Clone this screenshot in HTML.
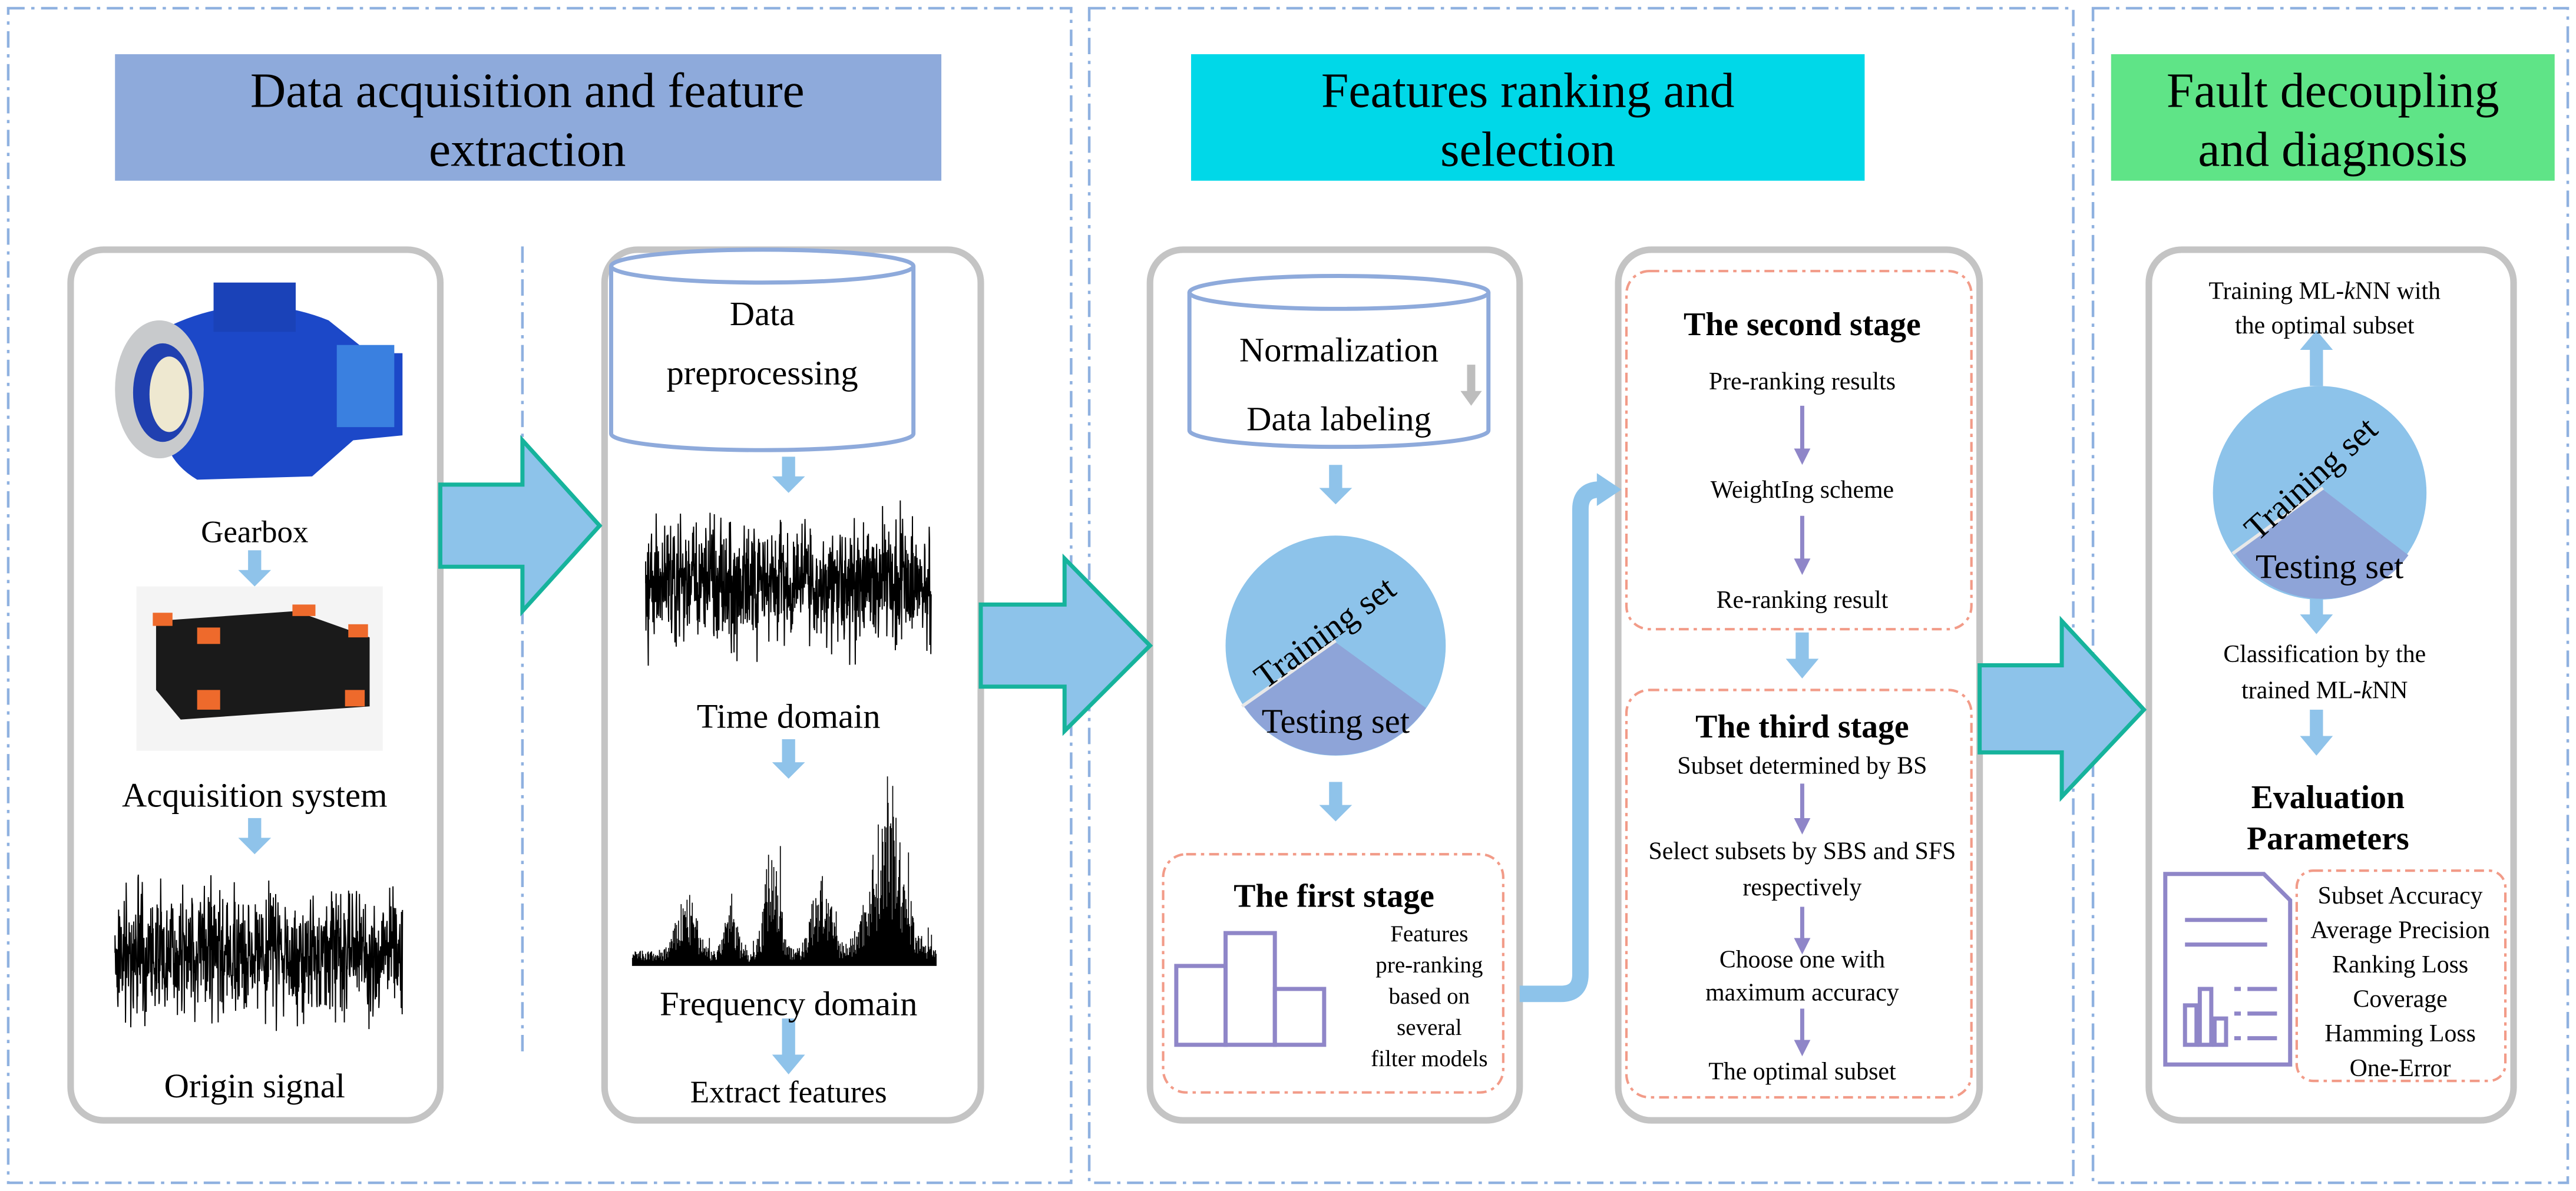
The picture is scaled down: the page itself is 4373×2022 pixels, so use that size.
<!DOCTYPE html>
<html><head><meta charset="utf-8"><style>
html,body{margin:0;padding:0;background:#fff}
svg{display:block}
text{font-family:"Liberation Serif",serif;fill:#000}
</style></head><body>
<svg id="s" width="4373" height="2022" viewBox="0 0 1568 725" preserveAspectRatio="none" xmlns="http://www.w3.org/2000/svg">
<defs>
<marker id="pa" markerWidth="4" markerHeight="4" refX="2" refY="2" orient="auto" markerUnits="strokeWidth"><path d="M0,0 L4,2 L0,4z" fill="#8f86c8"/></marker>
</defs>
<g fill="none" stroke="#8fb1e0" stroke-width="1.6" stroke-dasharray="10,4,2,4">
<rect x="5" y="5" width="647" height="715"/>
<rect x="663" y="5" width="599" height="715"/>
<rect x="1274" y="5" width="289" height="715"/>
<line x1="318" y1="150" x2="318" y2="640"/>
</g>
<rect x="70" y="33" width="503" height="77" fill="#8eaadb"/>
<text x="321" y="65" font-size="30" text-anchor="middle">Data acquisition  and feature</text>
<text x="321" y="101" font-size="30" text-anchor="middle">extraction</text>
<rect x="725" y="33" width="410" height="77" fill="#00d8e8"/>
<text x="930" y="65" font-size="30" text-anchor="middle">Features ranking and</text>
<text x="930" y="101" font-size="30" text-anchor="middle">selection</text>
<rect x="1285" y="33" width="270" height="77" fill="#5fe487"/>
<text x="1420" y="65" font-size="30" text-anchor="middle">Fault decoupling</text>
<text x="1420" y="101" font-size="30" text-anchor="middle">and diagnosis</text>
<g fill="none" stroke="#c4c4c4" stroke-width="4">
<rect x="43" y="152" width="225" height="530" rx="20"/>
<rect x="368" y="152" width="229" height="530" rx="20"/>
<rect x="700" y="152" width="225" height="530" rx="20"/>
<rect x="985" y="152" width="220" height="530" rx="20"/>
<rect x="1308" y="152" width="222" height="530" rx="20"/>
</g>
<g fill="#8dc3ea" stroke="#16b39c" stroke-width="2.5">
<path d="M268,295 H318 V268 L365,320 L318,372 V345 H268Z"/>
<path d="M597,368 H648 V340 L700,393 L648,445 V418 H597Z"/>
<path d="M1205,405 H1255 V378 L1305,432 L1255,485 V458 H1205Z"/>
</g>
<!-- gearbox -->
<g>
<path d="M100,200 Q150,175 200,195 L225,215 L245,215 L245,265 L215,268 L190,290 L120,292 Q100,280 100,260Z" fill="#1c48c8"/>
<rect x="130" y="172" width="50" height="30" fill="#1a42b8"/>
<rect x="205" y="210" width="35" height="50" fill="#3a80e0"/>
<ellipse cx="97" cy="237" rx="27" ry="42" fill="#c8cacc"/>
<ellipse cx="99" cy="239" rx="18" ry="30" fill="#2040b0"/>
<ellipse cx="103" cy="240" rx="12" ry="23" fill="#eee8d0"/>
</g>
<text x="155" y="330" font-size="19" text-anchor="middle">Gearbox</text>
<g fill="#8fc3ea">
<path d="M151,335h8v12h6l-10,10l-10,-10h6z"/>
<path d="M151,498h8v12h6l-10,10l-10,-10h6z"/>
<path d="M476,278h8v12h6l-10,10l-10,-10h6z"/>
<path d="M476,450h8v14h6l-10,10l-10,-10h6z"/>
<path d="M476,620h8v22h6l-10,12l-10,-12h6z"/>
<path d="M809,283h8v14h6l-10,10l-10,-10h6z"/>
<path d="M809,476h8v14h6l-10,10l-10,-10h6z"/>
<path d="M1093,385h8v16h6l-10,12l-10,-12h6z"/>
<path d="M1406,360h8v14h6l-10,12l-10,-12h6z"/>
<path d="M1406,432h8v16h6l-10,12l-10,-12h6z"/>
<path d="M1406,235h8v-22h6l-10,-12l-10,12h6z"/>
</g>
<rect x="83" y="357" width="150" height="100" fill="#f4f4f4"/>
<path d="M95,378 L180,372 L225,388 L225,430 L110,438 L95,420Z" fill="#1a1a1a"/>
<g fill="#ee6a2c"><rect x="93" y="373" width="12" height="8"/><rect x="120" y="382" width="14" height="10"/><rect x="178" y="368" width="14" height="7"/><rect x="212" y="380" width="12" height="8"/><rect x="120" y="420" width="14" height="12"/><rect x="210" y="420" width="12" height="10"/></g>
<text x="155" y="491" font-size="21" text-anchor="middle">Acquisition system</text>
<g id="sig1"></g>
<text x="155" y="668" font-size="21" text-anchor="middle">Origin signal</text>
<g fill="#fff" stroke="#8eaadb" stroke-width="2.5">
<path d="M372,162 V264 A92,10 0 0 0 556,264 V162"/>
<ellipse cx="464" cy="162" rx="92" ry="10"/>
<path d="M724,178 V262 A91,10 0 0 0 906,262 V178"/>
<ellipse cx="815" cy="178" rx="91" ry="10"/>
</g>
<text x="464" y="198" font-size="21" text-anchor="middle">Data</text>
<text x="464" y="234" font-size="21" text-anchor="middle">preprocessing</text>
<text x="815" y="220" font-size="21" text-anchor="middle">Normalization</text>
<text x="815" y="262" font-size="21" text-anchor="middle">Data labeling</text>
<path d="M893,222h5v16h4l-6.5,9l-6.5,-9h4z" fill="#bdbdbd"/>
<g id="sig2"></g>
<text x="480" y="443" font-size="21" text-anchor="middle">Time domain</text>
<g id="sig3"></g>
<text x="480" y="618" font-size="21" text-anchor="middle">Frequency domain</text>
<text x="480" y="671" font-size="19" text-anchor="middle">Extract features</text>
<circle cx="813" cy="393" r="67" fill="#8dc3ea"/>
<path d="M756,429 L813,391 L868,431 A67,67 0 0 1 758,431Z" fill="#8ea4d8"/>
<line x1="756" y1="430" x2="813" y2="390" stroke="#e8e8e8" stroke-width="2"/>
<text x="0" y="0" font-size="21" transform="translate(770,420) rotate(-36)">Training set</text>
<text x="813" y="446" font-size="21" text-anchor="middle">Testing set</text>
<rect x="708" y="520" width="207" height="145" rx="14" fill="none" stroke="#f29b88" stroke-width="1.5" stroke-dasharray="6,3,2,3"/>
<text x="812" y="552" font-size="20" font-weight="bold" text-anchor="middle">The first stage</text>
<g fill="none" stroke="#8f86c8" stroke-width="2.5"><rect x="716" y="588" width="30" height="48"/><rect x="746" y="568" width="30" height="68"/><rect x="776" y="602" width="30" height="34"/></g>
<g font-size="14" text-anchor="middle"><text x="870" y="573">Features</text><text x="870" y="592">pre-ranking</text><text x="870" y="611">based on</text><text x="870" y="630">several</text><text x="870" y="649">filter models</text></g>
<path d="M925,605 H950 Q962,605 962,593 V310 Q962,298 974,298 H975" fill="none" stroke="#8dc3ea" stroke-width="10"/>
<path d="M972,288 L987,298 L972,308Z" fill="#8dc3ea"/>
<g fill="none" stroke="#f29b88" stroke-width="1.5" stroke-dasharray="6,3,2,3">
<rect x="990" y="165" width="210" height="218" rx="14"/>
<rect x="990" y="420" width="210" height="248" rx="14"/>
<rect x="1398" y="530" width="127" height="128" rx="10"/>
</g>
<text x="1097" y="204" font-size="20" font-weight="bold" text-anchor="middle">The second stage</text>
<g font-size="15" text-anchor="middle">
<text x="1097" y="237">Pre-ranking results</text>
<text x="1097" y="303">WeightIng scheme</text>
<text x="1097" y="370">Re-ranking result</text>
<text x="1097" y="471">Subset determined by BS</text>
<text x="1097" y="523">Select subsets by SBS and SFS</text>
<text x="1097" y="545">respectively</text>
<text x="1097" y="589">Choose one with</text>
<text x="1097" y="609">maximum accuracy</text>
<text x="1097" y="657">The optimal subset</text>
</g>
<text x="1097" y="449" font-size="20" font-weight="bold" text-anchor="middle">The third stage</text>
<g stroke="#8f86c8" stroke-width="2.5"><line x1="1097" y1="247" x2="1097" y2="278" marker-end="url(#pa)"/><line x1="1097" y1="314" x2="1097" y2="345" marker-end="url(#pa)"/><line x1="1097" y1="477" x2="1097" y2="503" marker-end="url(#pa)"/><line x1="1097" y1="552" x2="1097" y2="576" marker-end="url(#pa)"/><line x1="1097" y1="614" x2="1097" y2="638" marker-end="url(#pa)"/></g>
<g font-size="15" text-anchor="middle">
<text x="1415" y="182">Training ML-<tspan font-style="italic">k</tspan>NN with</text>
<text x="1415" y="203">the optimal subset</text>
<text x="1415" y="403">Classification by the</text>
<text x="1415" y="425">trained ML-<tspan font-style="italic">k</tspan>NN</text>
</g>
<circle cx="1412" cy="300" r="65" fill="#8dc3ea"/>
<path d="M1360,336 L1414,298 L1466,338 A65,65 0 0 1 1362,339Z" fill="#8ea4d8"/>
<line x1="1359" y1="337" x2="1414" y2="297" stroke="#e8e8e8" stroke-width="2"/>
<text font-size="21" transform="translate(1374,330) rotate(-42)">Training set</text>
<text x="1418" y="352" font-size="21" text-anchor="middle">Testing set</text>
<text x="1417" y="492" font-size="20" font-weight="bold" text-anchor="middle">Evaluation</text>
<text x="1417" y="517" font-size="20" font-weight="bold" text-anchor="middle">Parameters</text>
<g fill="none" stroke="#8f86c8" stroke-width="2.5">
<path d="M1318,532 H1378 L1394,548 V648 H1318Z"/>
<line x1="1330" y1="560" x2="1380" y2="560"/><line x1="1330" y1="575" x2="1380" y2="575"/>
<rect x="1330" y="612" width="7" height="24"/><rect x="1339" y="602" width="7" height="34"/><rect x="1348" y="620" width="7" height="16"/>
<line x1="1360" y1="602" x2="1364" y2="602"/><line x1="1368" y1="602" x2="1386" y2="602"/>
<line x1="1360" y1="617" x2="1364" y2="617"/><line x1="1368" y1="617" x2="1386" y2="617"/>
<line x1="1360" y1="632" x2="1364" y2="632"/><line x1="1368" y1="632" x2="1386" y2="632"/>
</g>
<g font-size="15" text-anchor="middle">
<text x="1461" y="550">Subset Accuracy</text><text x="1461" y="571">Average Precision</text><text x="1461" y="592">Ranking Loss</text><text x="1461" y="613">Coverage</text><text x="1461" y="634">Hamming Loss</text><text x="1461" y="655">One-Error</text>
</g>
</svg>
<script>
var seed=7;function r(){seed=(seed*16807)%2147483647;return seed/2147483647;}
function noise(id,x0,x1,yc,amp,step){var d="M"+x0+","+yc;for(var x=x0;x<=x1;x+=step){var v=(r()+r()+r()-1.5)/1.5;d+=" L"+x.toFixed(2)+","+(yc+v*amp).toFixed(2);}
var p=document.createElementNS("http://www.w3.org/2000/svg","path");p.setAttribute("d",d);p.setAttribute("fill","none");p.setAttribute("stroke","#000");p.setAttribute("stroke-width","0.7");document.getElementById(id).appendChild(p);}
noise("sig1",70,245,580,55,0.2);
noise("sig2",393,567,355,55,0.2);
var d="";var g=document.getElementById("sig3");
for(var x=385;x<=570;x+=0.4){var base=588;
var env=8+30*Math.exp(-Math.pow((x-418)/8,2))+60*Math.exp(-Math.pow((x-470)/6,2))+40*Math.exp(-Math.pow((x-500)/8,2))+75*Math.exp(-Math.pow((x-540)/14,2))+25*Math.exp(-Math.pow((x-445)/5,2));
var h=env*(0.3+r()*0.9);if(r()<0.03)h*=2;d+="M"+x+","+base+"V"+(base-Math.min(h,128)).toFixed(1);}
var p=document.createElementNS("http://www.w3.org/2000/svg","path");p.setAttribute("d",d);p.setAttribute("stroke","#000");p.setAttribute("stroke-width","0.6");g.appendChild(p);
</script>
</body></html>
